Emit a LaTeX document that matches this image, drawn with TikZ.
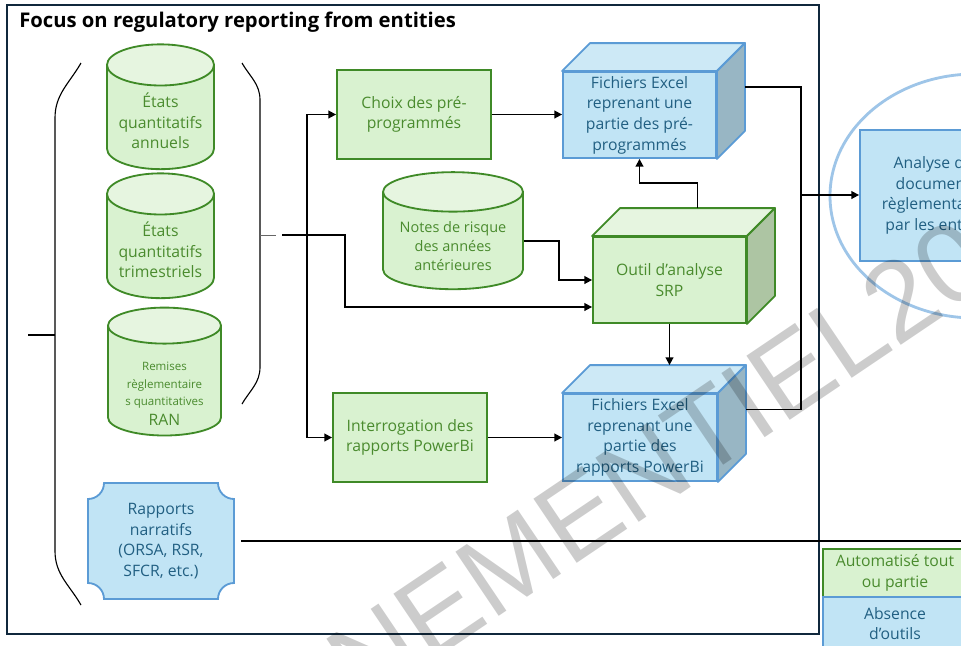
\documentclass[tikz,border=0pt]{standalone}
\usepackage{fontspec}
\setmainfont{Open Sans}
\newfontfamily\wmfont{Liberation Sans}
\usetikzlibrary{shapes.geometric, arrows.meta}

\definecolor{grnline}{HTML}{3F8A27}
\definecolor{grntext}{HTML}{4A8B2E}
\definecolor{grnfill}{HTML}{D9F2D0}
\definecolor{grnlight}{HTML}{E6F5E0}
\definecolor{grnside}{HTML}{ADC5A3}
\definecolor{blueline}{HTML}{5B9BD5}
\definecolor{bluetext}{HTML}{215F82}
\definecolor{bluefill}{HTML}{C1E4F5}
\definecolor{bluelight}{HTML}{CDE9F6}
\definecolor{blueside}{HTML}{98B6C4}
\definecolor{framecol}{HTML}{10283C}
\definecolor{ringcol}{HTML}{9EC5E8}

\tikzset{
  txt/.style={font=\fontsize{11.2}{14.7}\selectfont, align=center, inner sep=0pt},
  grnbox/.style={txt, rectangle, draw=grnline, fill=grnfill, text=grntext, line width=1.3pt},
  bluebox/.style={txt, rectangle, draw=blueline, fill=bluefill, text=bluetext, line width=1.3pt},
  dbase/.style={txt, cylinder, shape border rotate=90, draw=grnline, line width=1.3pt, text=grntext,
    cylinder uses custom fill, cylinder body fill=grnfill, cylinder end fill=grnlight},
  link/.style={line width=1.2pt},
  arr/.style={link, -{Triangle[length=5.5pt,width=5.5pt]}},
}

% depth of the 3D boxes: node, line, side, top
\newcommand{\boxdepth}[4]{%
  \filldraw[draw=#2, fill=#4, line width=1.3pt, line join=round] (#1.north west) -- ++(0.7,0.7)
    -- ([shift={(0.7,0.7)}]#1.north east) -- (#1.north east) -- cycle;
  \filldraw[draw=#2, fill=#3, line width=1.3pt, line join=round] (#1.north east) -- ++(0.7,0.7)
    -- ([shift={(0.7,0.7)}]#1.south east) -- (#1.south east) -- cycle;}
% text of a cylinder, lowered below the lid
\newcommand{\cylines}[2]{\raisebox{-#1}[\height][\depth]{\begin{tabular}{@{}c@{}}#2\end{tabular}}}

\begin{document}
\begin{tikzpicture}
  \useasboundingbox (0,0) rectangle (24.025,-16.125);
  \clip (0,0) rectangle (24.025,-16.125);
  \fill[white] (0,0) rectangle (24.025,-16.125);

  % Coordinates
  \coordinate (lbA) at (2.025,-1.575);
  \coordinate (lbB) at (1.375,-2.95);
  \coordinate (lbC) at (1.375,-13.775);
  \coordinate (lbD) at (2.025,-15.125);
  \coordinate (lbM) at (1.375,-8.375);
  \coordinate (lbT) at (0.7,-8.375);
  \coordinate (rbA) at (6.05,-1.575);
  \coordinate (rbB) at (6.5,-2.5);
  \coordinate (rbC) at (6.5,-9.175);
  \coordinate (rbD) at (6.05,-10.1);
  \coordinate (rbM) at (6.5,-5.875);
  \coordinate (rbT) at (6.9,-5.875);
  \coordinate (fork) at (7.05,-5.875);
  \coordinate (jn) at (7.675,-5.875);
  \coordinate (bend) at (8.625,-5.875);
  \coordinate (merge) at (20.025,-4.875);
  \coordinate (rapend) at (24.1,-13.55);

  % Frame
  \draw[framecol, line width=1.4pt] (0.175,-0.125) rectangle (20.475,-15.85);
  \node[anchor=west, inner sep=0pt, font=\fontsize{14.4}{16}\selectfont\bfseries] (title) at (0.475,-0.55)
    {Focus on regulatory reporting from entities};

  % Brackets
  \draw[line width=0.8pt] (lbA) to[out=240, in=90] (lbB) -- (lbC) to[out=-90, in=120] (lbD);
  \draw[line width=0.8pt] (rbA) to[out=-60, in=90] (rbB) -- (rbC) to[out=-90, in=60] (rbD);
  \draw[line width=0.8pt] (lbT) -- (lbM);
  \draw[line width=0.6pt, black!60] (rbM) -- (rbT);

  % Sources
  \node[dbase, minimum width=2.675cm, minimum height=2.825cm, aspect=0.49] (cylA) at (4.0125,-2.9375)
    {\cylines{4.6pt}{États\\quantitatifs\\annuels}};
  \node[dbase, minimum width=2.675cm, minimum height=2.775cm, aspect=0.49] (cylB) at (4.0125,-6.1625)
    {\cylines{4.6pt}{États\\quantitatifs\\trimestriels}};
  \node[dbase, minimum width=2.825cm, minimum height=3.0cm, aspect=0.46] (cylC) at (4.1125,-9.525)
    {\cylines{10pt}{{\fontsize{8.2}{12.4}\selectfont\begin{tabular}{@{}c@{}}Remises\\règlementaire\\s quantitatives\end{tabular}}\\RAN}};
  \filldraw[draw=blueline, fill=bluefill, line width=1.3pt] (2.6,-12.075) -- (5.45,-12.075)
    arc[start angle=180, end angle=270, radius=0.4] -- (5.85,-14.575)
    arc[start angle=90, end angle=180, radius=0.4] -- (2.6,-14.975)
    arc[start angle=0, end angle=90, radius=0.4] -- (2.2,-12.475)
    arc[start angle=270, end angle=360, radius=0.4] -- cycle;
  \node[txt, text=bluetext, minimum width=3.65cm, minimum height=2.9cm] (rap) at (4.025,-13.525)
    {Rapports\\narratifs\\(ORSA, RSR,\\SFCR, etc.)};

  % Tools
  \node[grnbox, minimum width=3.85cm, minimum height=2.225cm] (choix) at (10.35,-2.8625)
    {Choix des pré-\\programmés};
  \node[grnbox, minimum width=3.85cm, minimum height=2.225cm] (interro) at (10.25,-10.9375)
    {Interrogation des\\rapports PowerBi};
  \node[dbase, font=\fontsize{10.3}{13.5}\selectfont, minimum width=3.5cm, minimum height=2.65cm, aspect=0.37]
    (notes) at (11.325,-6.025) {\cylines{5pt}{Notes de risque\\des années\\antérieures}};
  \node[grnbox, minimum width=3.825cm, minimum height=2.15cm] (srp) at (16.7375,-7.0)
    {Outil d’analyse\\SRP};
  \boxdepth{srp}{grnline}{grnside}{grnlight}
  \node[bluebox, minimum width=3.825cm, minimum height=2.15cm] (fich1) at (15.9875,-2.875)
    {Fichiers Excel\\reprenant une\\partie des pré-\\programmés};
  \boxdepth{fich1}{blueline}{blueside}{bluelight}
  \node[bluebox, minimum width=3.85cm, minimum height=2.175cm] (fich2) at (16.0,-10.9375)
    {Fichiers Excel\\reprenant une\\partie des\\rapports PowerBi};
  \boxdepth{fich2}{blueline}{blueside}{bluelight}
  \coordinate (fich2top) at ([yshift=0.7cm]fich2.north);

  % Connectors
  \draw[arr] (fork) -- (bend) |- ([yshift=-0.675cm]srp.west);
  \draw[arr] (jn) |- (choix.west);
  \draw[arr] (jn) |- (interro.west);
  \draw[arr] (notes.east) -- ++(0.875,0) |- (srp.west);
  \draw[arr] (choix.east) -- (choix.east -| fich1.west);
  \draw[arr] (interro.east) -- (interro.east -| fich2.west);
  \draw[arr] ([shift={(0.7,0.7)}]srp.north) -- ++(0,0.625) -| (fich1.south);
  \draw[arr] (srp.south) -- (srp.south |- fich2top);
  \draw[link] ([shift={(0.7,0.7)}]fich1.east) -| (merge) |- ([shift={(0.7,0.7)}]fich2.east);
  \draw[link] ([xshift=0.175cm]rap.east) -- (rap.east -| rapend);

  % Analysis
  \draw[ringcol, line width=2pt] (24.375,-4.9) ellipse [x radius=3.625, y radius=3.05];
  \node[bluebox, minimum width=3.85cm, minimum height=3.275cm] (analyse) at (23.425,-4.8875)
    {Analyse des\\documents\\règlementaires\\par les entités};
  \draw[arr] (merge) -- (merge -| analyse.west);

  % Legend
  \node[grnbox, minimum width=3.6cm, minimum height=1.2cm] (auto) at (22.375,-14.325)
    {Automatisé tout\\ou partie};
  \node[bluebox, minimum width=3.6cm, minimum height=1.325cm] (none) at (22.375,-15.5875)
    {Absence\\d’outils};

  % Watermark
  \node[rotate=34, anchor=south west, inner sep=0pt, text=black, text opacity=0.2,
    font=\fontsize{80}{80}\selectfont\wmfont] (wmark) at (9.075,-17.75) {NEMENTIEL20};
\end{tikzpicture}
\end{document}
